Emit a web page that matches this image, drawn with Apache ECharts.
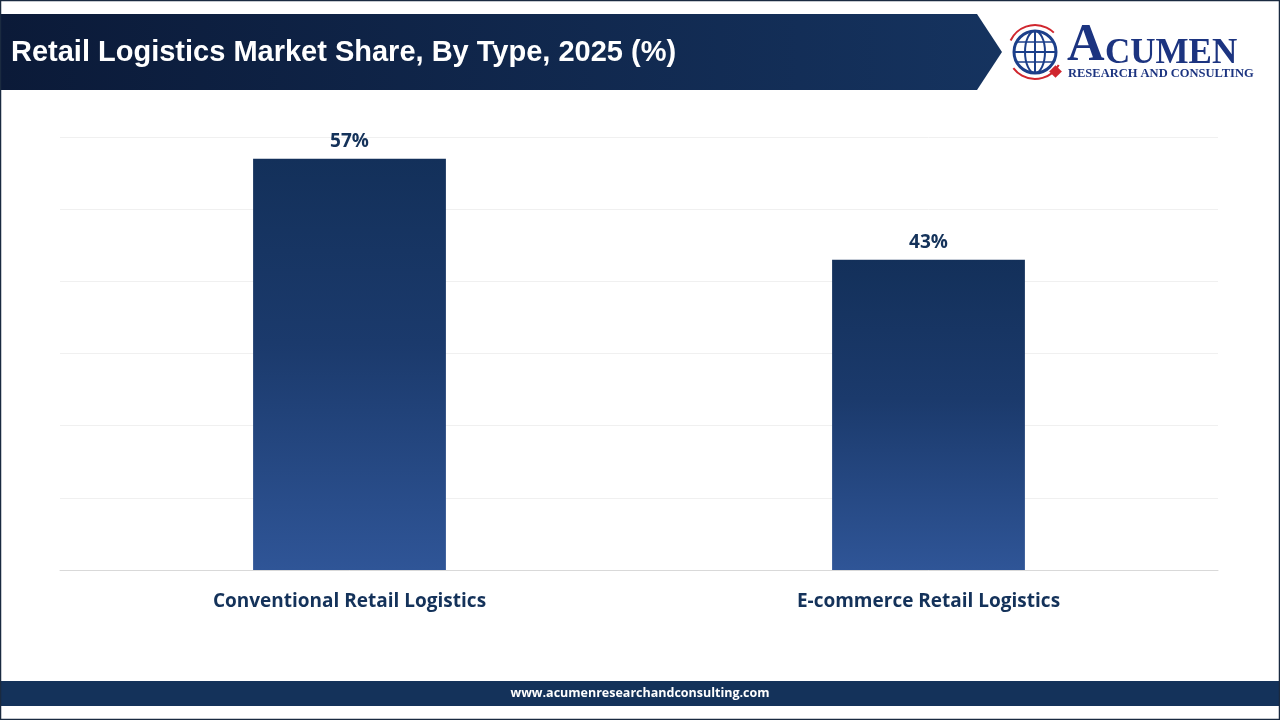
<!DOCTYPE html>
<html>
<head>
<meta charset="utf-8">
<script src="https://cdn.jsdelivr.net/npm/echarts@6/dist/echarts.min.js"></script>
<style>
  html, body { margin: 0; padding: 0; background: #fff; }
  #chart { width: 1280px; height: 720px; }
</style>
</head>
<body>
<div id="chart"></div>
<script>
// data
var categories = ["Conventional Retail Logistics", "E-commerce Retail Logistics"];
var shares = [57, 43];
var titleText = "Retail Logistics Market Share, By Type, 2025 (%)";
var footerText = "www.acumenresearchandconsulting.com";

var myChart = echarts.init(document.getElementById("chart"));

myChart.setOption({
  backgroundColor: "#ffffff",
  animation: false,
  grid: { left: 60, right: 62, top: 137, bottom: 150 },
  xAxis: {
    type: "category",
    data: categories,
    axisTick: { show: false },
    axisLine: { lineStyle: { color: "#d9d9d9", width: 1 } },
    axisLabel: {
      margin: 22,
      color: "#14325a",
      fontSize: 19,
      fontWeight: "bold",
      fontFamily: "Open Sans"
    }
  },
  yAxis: {
    type: "value",
    min: 0,
    max: 60,
    interval: 10,
    axisLabel: { show: false },
    axisLine: { show: false },
    axisTick: { show: false },
    splitLine: { lineStyle: { color: "#f0f0f0", width: 1 } }
  },
  series: [
    {
      type: "bar",
      data: shares,
      barWidth: "33.3%",
      itemStyle: {
        color: new echarts.graphic.LinearGradient(0, 0, 0, 1, [
          { offset: 0, color: "#13305a" },
          { offset: 0.45, color: "#1b3a6c" },
          { offset: 1, color: "#2f5597" }
        ])
      },
      label: {
        show: true,
        position: "top",
        distance: 8,
        formatter: "{c}%",
        color: "#14325a",
        fontSize: 19,
        fontWeight: "bold",
        fontFamily: "Open Sans"
      }
    }
  ],
  graphic: [
    // outer frame
    {
      type: "rect",
      shape: { x: 0.5, y: 0.5, width: 1279, height: 719 },
      style: { fill: null, stroke: "#1a2a40", lineWidth: 1.5 },
      z: 100
    },
    // title banner with arrow point
    {
      type: "polygon",
      shape: { points: [[0, 14], [977, 14], [1002, 52], [977, 90], [0, 90]] },
      style: {
        fill: new echarts.graphic.LinearGradient(0, 0, 1, 0, [
          { offset: 0, color: "#0b1a38" },
          { offset: 1, color: "#15335f" }
        ])
      }
    },
    {
      type: "text",
      x: 11,
      y: 53,
      style: {
        text: titleText,
        fill: "#ffffff",
        verticalAlign: "middle",
        font: "bold 29px 'Liberation Sans', Arial, sans-serif"
      }
    },
    // logo: globe
    {
      type: "group",
      x: 1007,
      y: 24,
      children: [
        { type: "arc", shape: { cx: 28, cy: 28, r: 27, startAngle: -2.7, endAngle: -0.8 },
          style: { stroke: "#d0262e", lineWidth: 2, fill: null } },
        { type: "arc", shape: { cx: 28, cy: 28, r: 27, startAngle: 0.5, endAngle: 2.5 },
          style: { stroke: "#d0262e", lineWidth: 2, fill: null } },
        { type: "circle", shape: { cx: 28, cy: 28, r: 21 },
          style: { fill: "#ffffff", stroke: "#1c3f8a", lineWidth: 3 } },
        { type: "ellipse", shape: { cx: 28, cy: 28, rx: 10, ry: 21 },
          style: { fill: null, stroke: "#1c3f8a", lineWidth: 2 } },
        { type: "line", shape: { x1: 28, y1: 7, x2: 28, y2: 49 },
          style: { stroke: "#1c3f8a", lineWidth: 2 } },
        { type: "line", shape: { x1: 7, y1: 28, x2: 49, y2: 28 },
          style: { stroke: "#1c3f8a", lineWidth: 2 } },
        { type: "line", shape: { x1: 10, y1: 18, x2: 46, y2: 18 },
          style: { stroke: "#1c3f8a", lineWidth: 1.5 } },
        { type: "line", shape: { x1: 10, y1: 38, x2: 46, y2: 38 },
          style: { stroke: "#1c3f8a", lineWidth: 1.5 } },
        { type: "rect", shape: { x: 44, y: 43, width: 9, height: 9 }, rotation: Math.PI / 4,
          originX: 48.5, originY: 47.5, style: { fill: "#d0262e" } }
      ]
    },
    {
      type: "text",
      x: 1067,
      y: 73,
      style: {
        text: "A",
        fill: "#1c3480",
        verticalAlign: "bottom",
        font: "bold 52px 'Liberation Serif', 'DejaVu Serif', serif"
      }
    },
    {
      type: "text",
      x: 1105,
      y: 71,
      style: {
        text: "CUMEN",
        fill: "#1c3480",
        verticalAlign: "bottom",
        font: "bold 35px 'Liberation Serif', 'DejaVu Serif', serif"
      }
    },
    {
      type: "text",
      x: 1068,
      y: 74,
      style: {
        text: "RESEARCH AND CONSULTING",
        fill: "#1c3480",
        verticalAlign: "middle",
        font: "bold 12.5px 'Liberation Serif', 'DejaVu Serif', serif"
      }
    },
    // footer band
    {
      type: "rect",
      shape: { x: 0, y: 681, width: 1280, height: 25 },
      style: { fill: "#14325a" }
    },
    {
      type: "text",
      x: 640,
      y: 693.5,
      style: {
        text: footerText,
        fill: "#ffffff",
        align: "center",
        verticalAlign: "middle",
        font: "bold 12.5px 'Open Sans', sans-serif"
      }
    }
  ]
});
</script>
</body>
</html>
